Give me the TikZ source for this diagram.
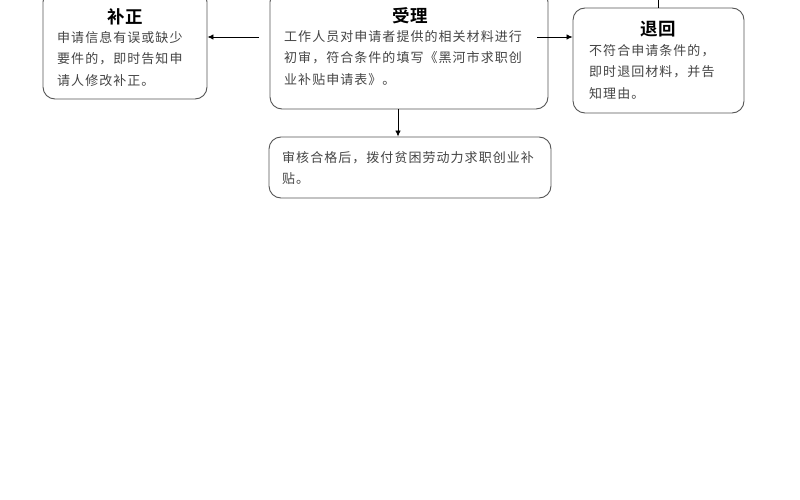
\documentclass[tikz,border=0pt]{standalone}
\usepackage{fontspec}
\usetikzlibrary{arrows.meta}
\newfontfamily\cjk{Noto Sans CJK SC}
\newfontfamily\cjkb{Noto Sans CJK SC Bold}
\newfontfamily\cjkbody[LetterSpace=8]{Noto Sans CJK SC}
\definecolor{bodygray}{HTML}{454545}
\definecolor{edgegray}{HTML}{555555}
\tikzset{
  box/.style={draw=edgegray, line width=0.9pt, rounded corners=12pt, inner sep=0pt},
  ttl/.style={font=\cjkb\fontsize{17.5}{20}\selectfont, text=black, inner sep=0pt},
  body/.style={font=\cjkbody\fontsize{13}{21.5}\selectfont, text=bodygray, align=left, anchor=north west, inner sep=0pt},
  arr/.style={draw=black, line width=0.8pt, -{Latex[length=6pt,width=5.5pt]}},
  ln/.style={draw=black, line width=0.8pt}
}
\begin{document}
\begin{tikzpicture}[x=1pt,y=-1pt]
\useasboundingbox (0,0) rectangle (800,500);
\fill[white] (0,0) rectangle (800,500);
% boxes
\node[box, minimum width=164pt, minimum height=109pt] (bz) at (125,44.5) {};
\node[box, minimum width=278pt, minimum height=119pt] (sl) at (409,49.5) {};
\node[box, minimum width=171pt, minimum height=105pt] (th) at (658.5,60.5) {};
\node[box, minimum width=282pt, minimum height=61pt] (sh) at (410,167.5) {};
% titles
\node[ttl] (bzt) at (125,16.5) {补正};
\node[ttl] (slt) at (410,16) {受理};
\node[ttl] (tht) at (658,29) {退回};
% bodies
\node[body] (bzb) at (57,31) {申请信息有误或缺少\\要件的，即时告知申\\请人修改补正。};
\node[body] (slb) at (284,30) {工作人员对申请者提供的相关材料进行\\初审，符合条件的填写《黑河市求职创\\业补贴申请表》。};
\node[body] (thb) at (589,44) {不符合申请条件的，\\即时退回材料，并告\\知理由。};
\node[body] (shb) at (282,151) {审核合格后，拨付贫困劳动力求职创业补\\贴。};
% connectors
\coordinate (la) at (259,37);
\coordinate (ra) at (537,37);
\coordinate (tp) at (658,0);
\draw[arr] (la) -- (bz.east |- la);
\draw[arr] (ra) -- (th.west |- ra);
\draw[arr] (sl.south -| 398,0) -- (sh.north -| 398,0);
\draw[ln] (tp) -- (th.north -| tp);
\end{tikzpicture}
\end{document}
